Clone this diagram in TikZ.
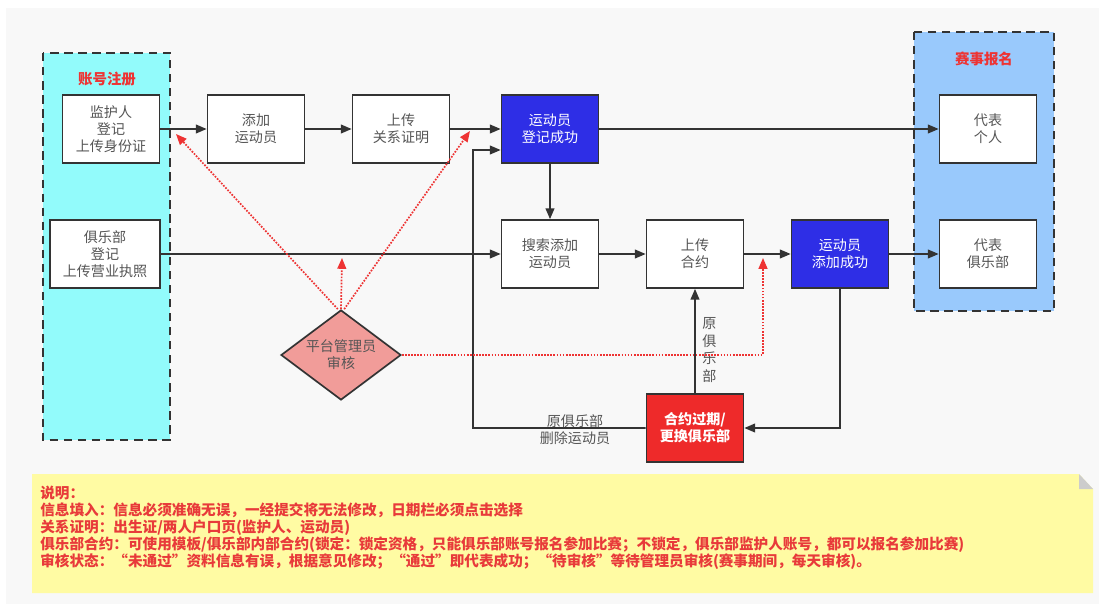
\documentclass[tikz,border=0pt]{standalone}
\usepackage{fontspec}
\setmainfont{Noto Sans CJK SC}
\usepackage{tikz}
\usetikzlibrary{shapes,shapes.geometric,arrows.meta}

\definecolor{canvas}{HTML}{F8F8F8}
\definecolor{edgegray}{HTML}{333333}
\definecolor{textgray}{HTML}{555555}
\definecolor{regcyan}{HTML}{92FBFB}
\definecolor{entblue}{HTML}{99C9FC}
\definecolor{okblue}{HTML}{2E2EE6}
\definecolor{expred}{HTML}{EE2A2A}
\definecolor{auditpink}{HTML}{F19C99}
\definecolor{checkred}{HTML}{EE3333}
\definecolor{noteyellow}{HTML}{FFFBA3}
\definecolor{notered}{HTML}{E83A3A}
\definecolor{foldgray}{HTML}{CCCCCC}

\begin{document}
\begin{tikzpicture}[x=0.025cm, y=-0.025cm, >={Triangle[length=0.27cm,width=0.22cm]},
   box/.style={draw=edgegray, line width=1.2pt, fill=white, align=center,
     minimum width=2.425cm, minimum height=1.7cm, inner sep=0pt,
     text=textgray, font=\fontsize{10}{12.1}\selectfont},
   okbox/.style={box, fill=okblue, text=white},
   flow/.style={->, draw=edgegray, line width=1.1pt},
   check/.style={->, draw=checkred, line width=1.2pt, densely dotted},
   group/.style={draw=edgegray, line width=1.3pt, dash pattern=on 6pt off 4pt},
   grouptitle/.style={text=checkred, font=\fontsize{10.3}{12}\selectfont\bfseries},
   lbl/.style={align=center, inner sep=0pt, text=textgray,
     font=\fontsize{10}{12.1}\selectfont}]
   \useasboundingbox (0,0) rectangle (1105,610);
   \fill[white] (0,0) rectangle (1105,610);
   \fill[canvas] (6,8) rectangle (1099,604);
   % account and entry groups
   \draw[group, fill=regcyan] (43,53) rectangle (170,440);
   \draw[group, fill=entblue] (914,32) rectangle (1054,311);
   \node[grouptitle] (zhzc) at (107,79) {账号注册};
   \node[grouptitle] (sshm) at (984,59) {赛事报名};
   % steps
   \node[box] (jhr) at (111,129) {监护人\\登记\\上传身份证};
   \node[box, minimum width=2.75cm] (jlb) at (105,254) {俱乐部\\登记\\上传营业执照};
   \node[box] (tjy) at (256,129) {添加\\运动员};
   \node[box] (gxzm) at (401,129) {上传\\关系证明};
   \node[okbox] (djcg) at (550,129) {运动员\\登记成功};
   \node[box] (dbgr) at (988,129) {代表\\个人};
   \node[box] (sstj) at (550,254) {搜索添加\\运动员};
   \node[box] (schy) at (695,254) {上传\\合约};
   \node[okbox] (tjcg) at (840,254) {运动员\\添加成功};
   \node[box] (dbjlb) at (988,254) {代表\\俱乐部};
   \node[box, fill=expred, text=white, font=\fontsize{10}{12.1}\selectfont\bfseries]
     (hygq) at (695,428) {合约过期/\\更换俱乐部};
   \node[draw=edgegray, line width=1.2pt, fill=auditpink, diamond, aspect=1.33,
     inner sep=0pt, minimum width=3cm, minimum height=2.25cm, align=center,
     text=textgray, font=\fontsize{10}{12.1}\selectfont]
     (shh) at (341,355) {平台管理员\\审核};
   % main flow
   \draw[flow] (jhr) -- (tjy);
   \draw[flow] (tjy) -- (gxzm);
   \draw[flow] (gxzm) -- (djcg);
   \draw[flow] (djcg) -- (dbgr);
   \draw[flow] (djcg) -- (sstj);
   \draw[flow] (jlb) -- (sstj);
   \draw[flow] (sstj) -- (schy);
   \draw[flow] (schy) -- (tjcg);
   \draw[flow] (tjcg) -- (dbjlb);
   \draw[flow] (tjcg.south) |- (hygq.east);
   \draw[flow] (hygq) -- (schy);
   \coordinate (back) at (473,150);
   \draw[flow] (hygq.west) -| (back) -- ([yshift=-0.525cm]djcg.west);
   \node[lbl] (ysc) at (575,430) {原俱乐部\\删除运动员};
   \node[lbl, anchor=west, font=\fontsize{10}{12.6}\selectfont] (yjlb) at (702,350) {原\\俱\\乐\\部};
   % audit
   \coordinate (chk1) at (176,134);
   \coordinate (chk2) at (470,131);
   \coordinate (chk3) at (342,258);
   \coordinate (chk4) at (763,258);
   \draw[check] ([xshift=-0.08cm]shh.north) -- (chk1);
   \draw[check] (shh.north) -- (chk3);
   \draw[check] ([xshift=0.08cm]shh.north) -- (chk2);
   \draw[check] (shh.east) -| (chk4);
   % note
   \fill[noteyellow] (32,474) -- (1079,474) -- (1093,489) -- (1093,593) -- (32,593) -- cycle;
   \fill[foldgray] (1079,474) -- (1093,489) -- (1079,489) -- cycle;
   \node[anchor=north west, align=left, inner sep=0pt, text=notered,
     font=\fontsize{10.4}{12.1}\selectfont\bfseries] (sm) at (40,486)
     {说明：\\
      信息填入：信息必须准确无误，一经提交将无法修改，日期栏必须点击选择\\
      关系证明：出生证/两人户口页(监护人、运动员)\\
      俱乐部合约：可使用模板/俱乐部内部合约(锁定：锁定资格，只能俱乐部账号报名参加比赛；不锁定，俱乐部监护人账号，都可以报名参加比赛)\\
      审核状态：“未通过”资料信息有误，根据意见修改；“通过”即代表成功；“待审核”等待管理员审核(赛事期间，每天审核)。};
\end{tikzpicture}
\end{document}
